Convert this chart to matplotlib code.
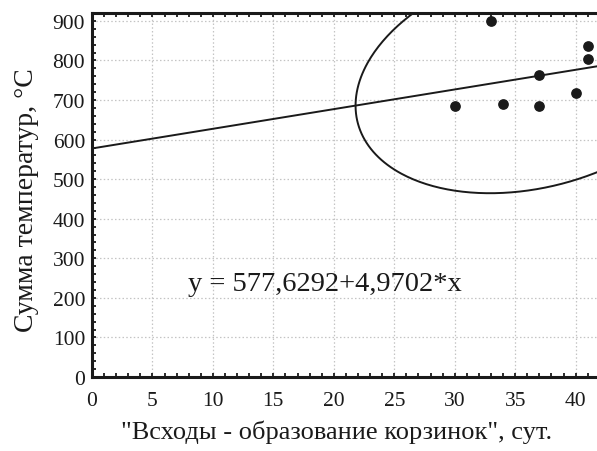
import numpy as np
import matplotlib
matplotlib.use("Agg")
import matplotlib.pyplot as plt
from matplotlib.ticker import MultipleLocator

# data
x_vals = [30, 33, 34, 37, 37, 40, 41, 41]
y_vals = [686, 900, 691, 763, 686, 717, 837, 805]

# regression line y = a + b*x
intercept = 577.6292
slope = 4.9702
equation = "y = 577,6292+4,9702*x"

# 95% prediction ellipse statistics
ell_mean_x = 36.6
ell_mean_y = 759.5
ell_half_x = 14.8
ell_half_y = 295.0
ell_r = slope * ell_half_x / ell_half_y

x_ticks = [0, 5, 10, 15, 20, 25, 30, 35, 40]
y_ticks = [0, 100, 200, 300, 400, 500, 600, 700, 800, 900]
x_label = '"Всходы - образование корзинок", сут.'
y_label = "Сумма температур, °C"

plt.rcParams['font.family'] = ['Liberation Serif', 'DejaVu Serif']

fig = plt.figure(figsize=(5.97, 4.52), dpi=100)
ax = fig.add_axes([92/597, 74/452, 1 - 92/597, 364/452])

xmax = 41.77
ax.set_xlim(0, xmax)
ax.set_ylim(0, 920)

ink = '#1a1a1a'

# grid
ax.set_xticks(x_ticks)
ax.set_yticks(y_ticks)
ax.grid(True, color='#c4c4c4', linestyle=(0, (1.2, 1.8)), linewidth=0.9)
ax.set_axisbelow(True)

# regression line
xl = np.array([0, xmax])
ax.plot(xl, intercept + slope * xl, color=ink, linewidth=1.4, zorder=3)

# ellipse
t = np.linspace(0, 2 * np.pi, 400)
ex = ell_mean_x + ell_half_x * np.cos(t)
ey = ell_mean_y + ell_half_y * (ell_r * np.cos(t) + np.sqrt(1 - ell_r**2) * np.sin(t))
ax.plot(ex, ey, color=ink, linewidth=1.4, zorder=3)

# points
ax.scatter(x_vals, y_vals, s=45, color=ink, zorder=4, clip_on=False)

# equation
ax.text(7.9, 220, equation, fontsize=20.5, ha='left', va='baseline', color=ink)

# spines
for s in ['left', 'bottom', 'top']:
    ax.spines[s].set_linewidth(2.2)
    ax.spines[s].set_color(ink)
ax.spines['right'].set_visible(False)

ax.xaxis.set_minor_locator(MultipleLocator(1))
ax.yaxis.set_minor_locator(MultipleLocator(20))
ax.tick_params(axis='x', which='both', direction='in', top=True, bottom=True,
               length=3, width=1.3, colors=ink, labelsize=15.5, pad=10)
ax.tick_params(axis='y', which='both', direction='in', left=True, right=False,
               length=3, width=1.3, colors=ink, labelsize=15.5, pad=5)

ax.set_xlabel(x_label, fontsize=19, color=ink)
ax.set_ylabel(y_label, fontsize=20, color=ink)
ax.xaxis.set_label_coords(0.485, -0.118)
ax.yaxis.set_label_coords(-0.105, 0.49)

fig.savefig("out.png", dpi=100)
